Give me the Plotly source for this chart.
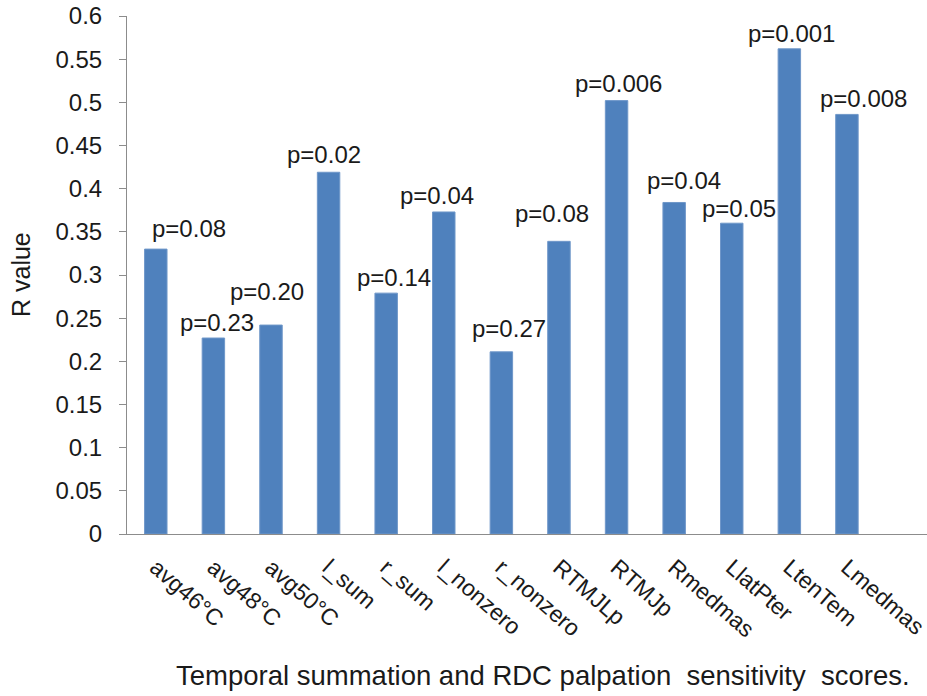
import plotly.graph_objects as go

categories = ["avg46°C", "avg48°C", "avg50°C", "l_sum", "r_sum", "l_nonzero", "r_nonzero",
              "RTMJLp", "RTMJp", "Rmedmas", "LlatPter", "LtenTem", "Lmedmas"]
r_values = [0.330, 0.227, 0.242, 0.419, 0.279, 0.373, 0.211, 0.339, 0.502, 0.384, 0.360, 0.562, 0.486]
p_labels = ["p=0.08", "p=0.23", "p=0.20", "p=0.02", "p=0.14", "p=0.04", "p=0.27",
            "p=0.08", "p=0.006", "p=0.04", "p=0.05", "p=0.001", "p=0.008"]
y_tick_vals = [0, 0.05, 0.1, 0.15, 0.2, 0.25, 0.3, 0.35, 0.4, 0.45, 0.5, 0.55, 0.6]
y_tick_text = ["0", "0.05", "0.1", "0.15", "0.2", "0.25", "0.3", "0.35", "0.4", "0.45", "0.5", "0.55", "0.6"]

# label placement (layout only): horizontal offset in category units, vertical shift in px
label_dx = [0.58, 0.06, -0.07, -0.08, 0.14, -0.12, 0.14, -0.12, 0.03, 0.17, 0.12, 0.04, 0.28]
label_dy = [21, 16, 34, 18, 16, 16, 23, 28, 17, 22, 15, 15, 16]

FONT = "Liberation Sans, Arial, sans-serif"
TXT = "#1a1a1a"
AX = "#8c8c8c"
PLOT_W, PLOT_H = 800, 518
FIG_W, FIG_H = 927, 696
M_L, M_T = 127, 16
M_B = FIG_H - M_T - PLOT_H

fig = go.Figure(go.Bar(
    x=categories, y=r_values,
    marker=dict(color="#4F81BD", line=dict(color="#6f97c9", width=1)),
    width=0.39,
))

for i, (v, t) in enumerate(zip(r_values, p_labels)):
    fig.add_annotation(x=i + label_dx[i], y=v, xref="x", yref="y", text=t,
                       showarrow=False, yshift=label_dy[i], xanchor="center", yanchor="middle",
                       font=dict(family=FONT, size=24, color=TXT))

fig.add_annotation(x=(543 - 127) / PLOT_W, y=-(675 - 534) / PLOT_H, xref="paper", yref="paper",
                   text="Temporal summation and RDC palpation  sensitivity  scores.",
                   showarrow=False, xanchor="center", yanchor="middle",
                   font=dict(family=FONT, size=27.5, color=TXT))

fig.add_annotation(x=(21 - 127) / PLOT_W, y=0.5, xref="paper", yref="paper",
                   text="R value", textangle=-90,
                   showarrow=False, xanchor="center", yanchor="middle",
                   font=dict(family=FONT, size=25, color=TXT))

fig.update_layout(
    width=FIG_W, height=FIG_H,
    margin=dict(l=M_L, r=0, t=M_T, b=M_B),
    paper_bgcolor="white", plot_bgcolor="white",
    showlegend=False,
    xaxis=dict(type="category", range=[-0.5, 13.39], showline=True, linecolor=AX, linewidth=1,
               ticks="", showgrid=False, tickangle=41, automargin=False, ticklabelstandoff=10,
               ticklabeloverflow="allow",
               tickfont=dict(family=FONT, size=23, color=TXT)),
    yaxis=dict(range=[0, 0.6], tickvals=y_tick_vals, ticktext=y_tick_text, automargin=False,
               showline=True, linecolor=AX, linewidth=1, ticks="outside", ticklen=7, tickcolor=AX,
               showgrid=False, zeroline=False, ticklabelstandoff=12, ticklabeloverflow="allow",
               tickfont=dict(family=FONT, size=24, color=TXT)),
)

# remove the browser's default 8px body margin so the figure sits at the page's top-left corner
fig.write_html("out.html", config={"displayModeBar": False},
               post_script="document.body.style.margin='0px';document.body.style.overflow='hidden';")
